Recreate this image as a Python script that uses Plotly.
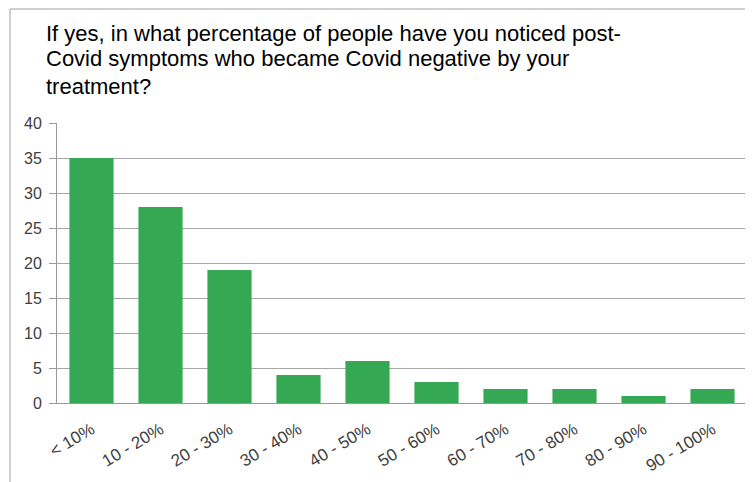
import plotly.graph_objects as go

categories = ["< 10%", "10 - 20%", "20 - 30%", "30 - 40%", "40 - 50%",
              "50 - 60%", "60 - 70%", "70 - 80%", "80 - 90%", "90 - 100%"]
values = [35, 28, 19, 4, 6, 3, 2, 2, 1, 2]
y_ticks = [0, 5, 10, 15, 20, 25, 30, 35, 40]
title_lines = ["If yes, in what percentage of people have you noticed post-",
               "Covid symptoms who became Covid negative by your",
               "treatment?"]

OFF = 8  # page body margin
W, H = 753 - OFF, 482 - OFF
L, R, T, B = 57 - OFF, 6, 123 - OFF, 79
pw, ph = W - L - R, H - T - B

def px_x(x):
    return (x - OFF - L) / pw

def px_y(y):
    return (H - B - (y - OFF)) / ph

fig = go.Figure(go.Bar(
    x=categories, y=values,
    marker=dict(color="#34a853", line=dict(width=0)),
))

annotations = []
for i, (line, yc) in enumerate(zip(title_lines, [33, 59, 86])):
    annotations.append(dict(
        text=line, xref="paper", yref="paper",
        x=px_x(44), y=px_y(yc), xanchor="left", yanchor="middle",
        align="left", showarrow=False,
        font=dict(size=22, color="#000000", family="Liberation Sans, Arial, sans-serif"),
    ))

fig.update_layout(
    width=W, height=H,
    margin=dict(l=L, r=R, t=T, b=B),
    paper_bgcolor="white", plot_bgcolor="white",
    bargap=0.36,
    showlegend=False,
    font=dict(family="Liberation Sans, Arial, sans-serif", color="#404040"),
    xaxis=dict(
        tickangle=-31, tickfont=dict(size=17, color="#404040"),
        showline=True, linecolor="#999999", linewidth=1,
        showgrid=False, ticks="", automargin=False,
        ticklabelstandoff=9,
    ),
    yaxis=dict(
        range=[0, 40], tickvals=y_ticks, tickfont=dict(size=16, color="#404040"),
        showgrid=True, gridcolor="#a6a6a6", gridwidth=1,
        showline=True, linecolor="#999999", linewidth=1,
        ticks="outside", ticklen=7, tickcolor="#999999",
        ticklabelstandoff=4,
        zeroline=False, automargin=False,
    ),
    annotations=annotations,
    shapes=[
        dict(type="line", xref="paper", yref="paper",
             x0=px_x(10), x1=px_x(10), y0=px_y(9), y1=px_y(500),
             line=dict(color="#a0a0a0", width=1)),
        dict(type="line", xref="paper", yref="paper",
             x0=px_x(10), x1=px_x(760), y0=px_y(9), y1=px_y(9),
             line=dict(color="#a0a0a0", width=1)),
    ],
)

fig.write_html("out.html")
